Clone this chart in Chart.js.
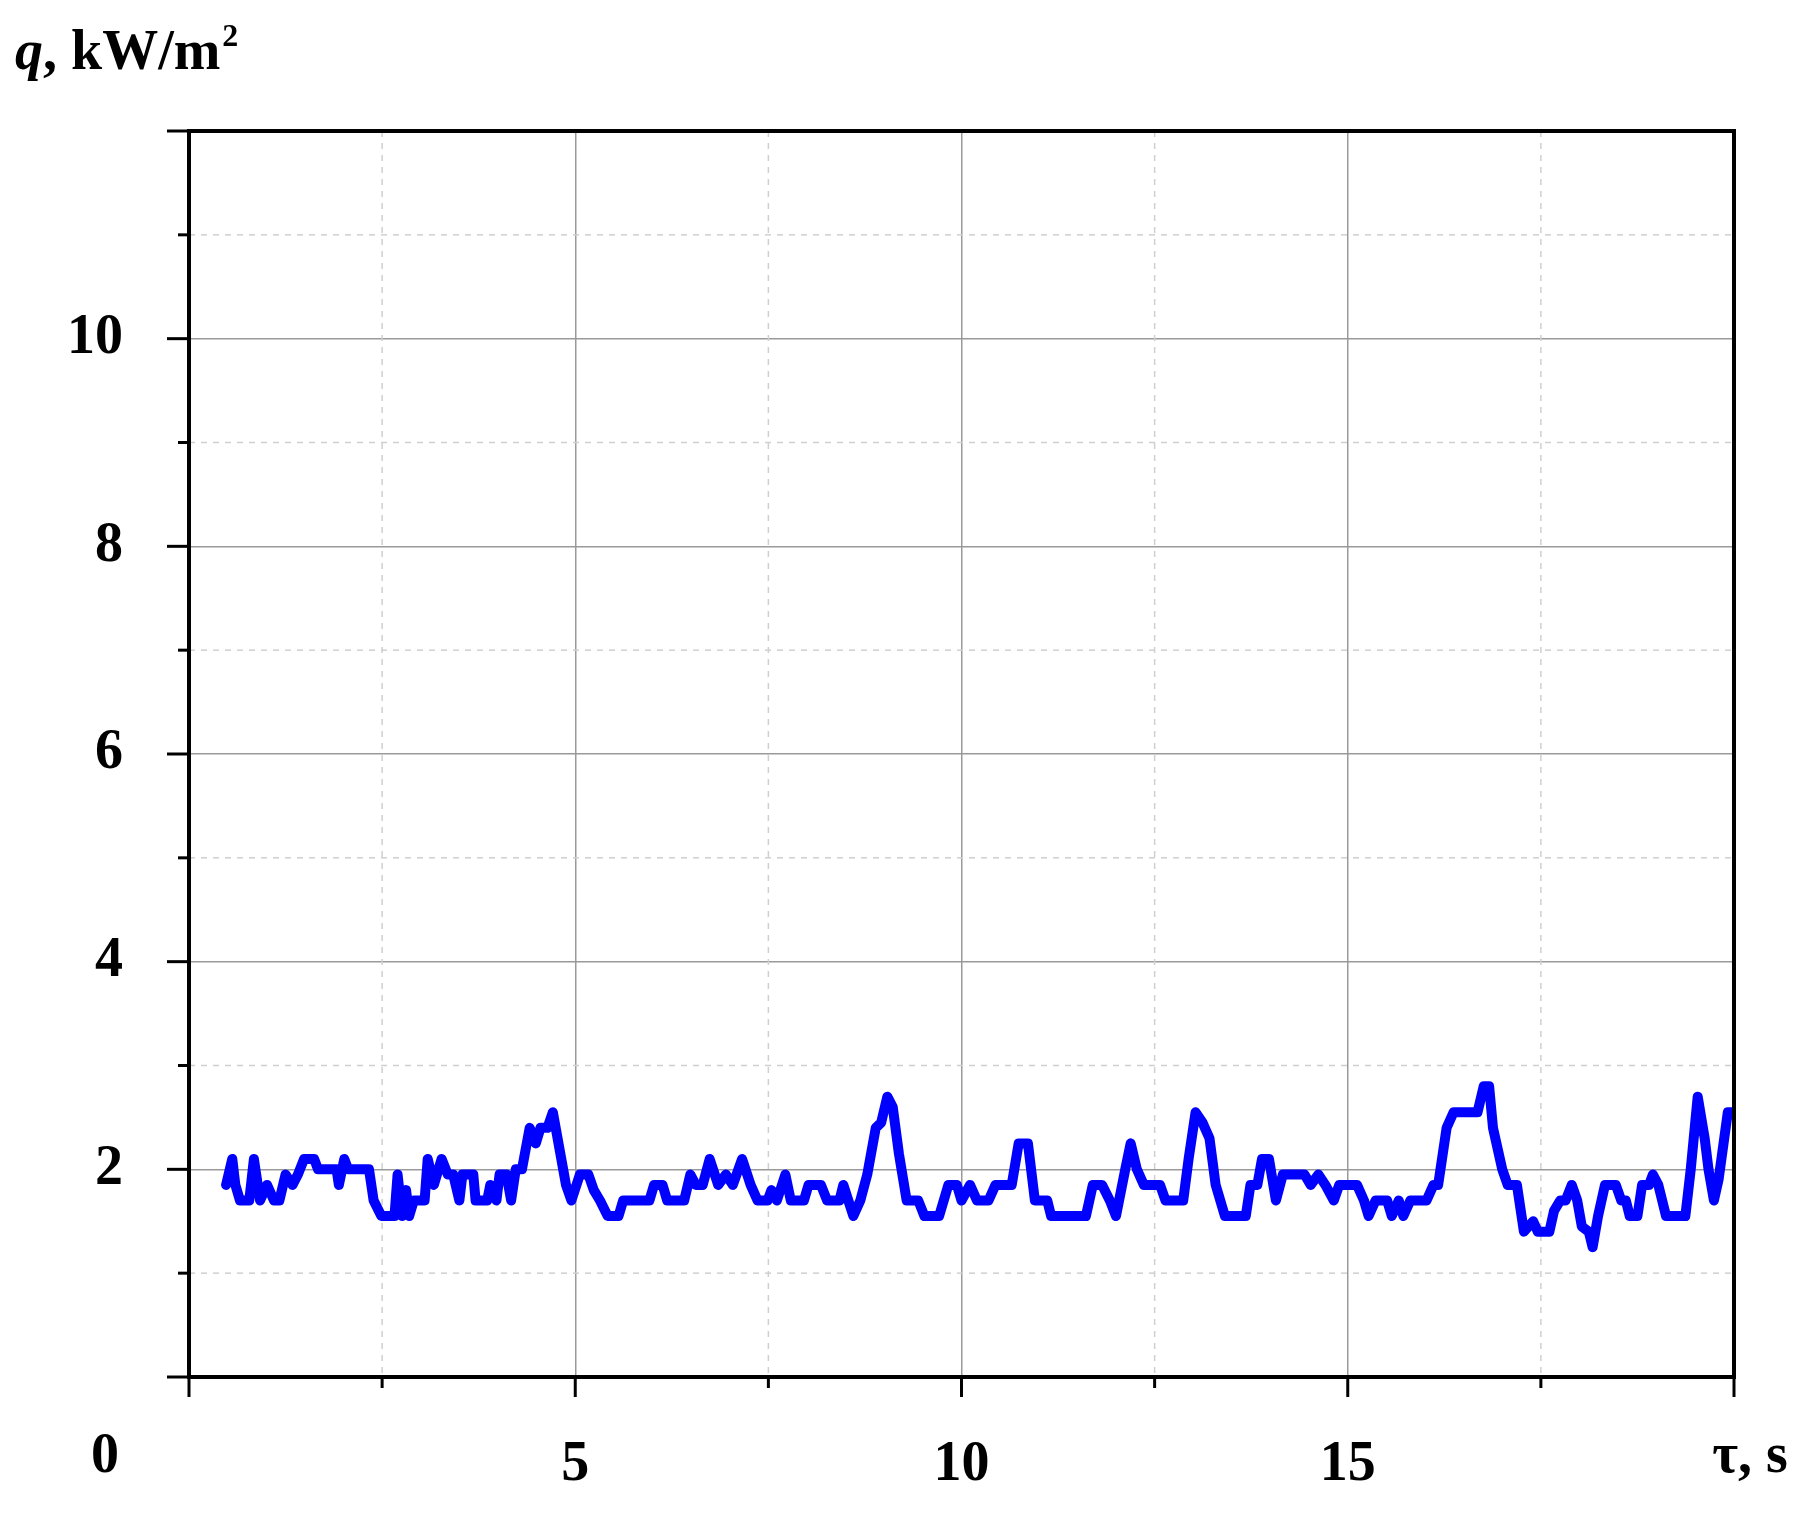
<!DOCTYPE html>
<html>
<head>
<meta charset="utf-8">
<script src="https://cdn.jsdelivr.net/npm/chart.js@4.4.0/dist/chart.umd.min.js"></script>
<style>
  html, body { margin: 0; padding: 0; background: #fff; }
  #wrap { width: 1809px; height: 1514px; }
</style>
</head>
<body>
<div id="wrap"><canvas id="c"></canvas></div>
<script>
// time, s
const tau = [0.48,0.56,0.60,0.66,0.78,0.84,0.92,1.01,1.10,1.17,1.25,1.34,1.41,1.49,1.62,1.67,1.91,1.94,2.01,2.06,
  2.33,2.39,2.49,2.66,2.70,2.76,2.81,2.85,2.91,3.05,3.09,3.17,3.27,3.35,3.42,3.50,3.54,3.68,3.71,3.86,
  3.90,3.98,4.02,4.11,4.17,4.23,4.31,4.41,4.49,4.55,4.64,4.71,4.88,4.95,5.06,5.17,5.24,5.32,5.42,5.56,
  5.62,5.96,6.02,6.13,6.19,6.41,6.49,6.56,6.65,6.74,6.85,6.95,7.04,7.16,7.27,7.36,7.49,7.54,7.61,7.72,
  7.79,7.96,8.02,8.18,8.26,8.42,8.47,8.60,8.69,8.78,8.89,8.96,9.04,9.11,9.19,9.29,9.44,9.52,9.71,9.83,
  9.94,10.00,10.11,10.20,10.35,10.44,10.65,10.74,10.86,10.95,11.11,11.16,11.61,11.70,11.82,11.92,12.00,12.12,12.19,12.27,
  12.36,12.57,12.64,12.87,12.94,13.03,13.12,13.21,13.29,13.41,13.68,13.74,13.83,13.89,13.98,14.07,14.16,14.25,14.44,14.52,
  14.62,14.71,14.82,14.89,15.12,15.21,15.27,15.36,15.51,15.57,15.66,15.72,15.81,16.02,16.11,16.17,16.28,16.37,16.68,16.76,
  16.83,16.88,17.00,17.07,17.19,17.25,17.28,17.34,17.40,17.46,17.61,17.67,17.75,17.82,17.90,17.97,18.03,18.12,18.17,18.24,
  18.33,18.47,18.54,18.60,18.65,18.75,18.81,18.90,18.95,19.02,19.12,19.37,19.44,19.53,19.62,19.67,19.74,19.80,19.92,20.00];
// heat flux, kW/m2
const q = [1.85,2.1,1.85,1.7,1.7,2.1,1.7,1.85,1.7,1.7,1.95,1.85,1.95,2.1,2.1,2.0,2.0,1.85,2.1,2.0,
  2.0,1.7,1.55,1.55,1.95,1.55,1.8,1.55,1.7,1.7,2.1,1.85,2.1,1.95,1.95,1.7,1.95,1.95,1.7,1.7,
  1.85,1.7,1.95,1.95,1.7,2.0,2.0,2.4,2.25,2.4,2.4,2.55,1.85,1.7,1.95,1.95,1.8,1.7,1.55,1.55,
  1.7,1.7,1.85,1.85,1.7,1.7,1.95,1.85,1.85,2.1,1.85,1.95,1.85,2.1,1.85,1.7,1.7,1.8,1.7,1.95,
  1.7,1.7,1.85,1.85,1.7,1.7,1.85,1.55,1.7,1.95,2.4,2.45,2.7,2.6,2.15,1.7,1.7,1.55,1.55,1.85,
  1.85,1.7,1.85,1.7,1.7,1.85,1.85,2.25,2.25,1.7,1.7,1.55,1.55,1.85,1.85,1.7,1.55,2.0,2.25,2.0,
  1.85,1.85,1.7,1.7,2.1,2.55,2.45,2.3,1.85,1.55,1.55,1.85,1.85,2.1,2.1,1.7,1.95,1.95,1.95,1.85,
  1.95,1.85,1.7,1.85,1.85,1.7,1.55,1.7,1.7,1.55,1.7,1.55,1.7,1.7,1.85,1.85,2.4,2.55,2.55,2.8,
  2.8,2.4,2.0,1.85,1.85,1.55,1.4,1.45,1.5,1.4,1.4,1.6,1.7,1.7,1.85,1.7,1.45,1.4,1.25,1.55,
  1.85,1.85,1.7,1.7,1.55,1.55,1.85,1.85,1.95,1.85,1.55,1.55,2.0,2.7,2.3,2.0,1.7,1.9,2.55,2.55];

const xLabels = { 5: '5', 10: '10', 15: '15' };
const yLabels = { 2: '2', 4: '4', 6: '6', 8: '8', 10: '10' };
const labelFont = { family: 'Liberation Serif', size: 56, weight: 'bold' };

const frame = {
  id: 'frame',
  beforeDatasetsDraw(chart) {
    const { ctx, chartArea: a, scales: { x, y } } = chart;
    ctx.save();
    ctx.strokeStyle = '#d0d0d0';
    ctx.lineWidth = 1.5;
    ctx.setLineDash([6, 6]);
    for (let v = 2.5; v < 20; v += 5) {
      const px = x.getPixelForValue(v);
      ctx.beginPath(); ctx.moveTo(px, a.top); ctx.lineTo(px, a.bottom); ctx.stroke();
    }
    for (let v = 1; v < 12; v += 2) {
      const py = y.getPixelForValue(v);
      ctx.beginPath(); ctx.moveTo(a.left, py); ctx.lineTo(a.right, py); ctx.stroke();
    }
    ctx.restore();
  },
  afterDraw(chart) {
    const { ctx, chartArea: a, scales: { x, y } } = chart;
    ctx.save();
    ctx.strokeStyle = '#000';
    ctx.lineWidth = 4;
    ctx.strokeRect(a.left, a.top, a.right - a.left, a.bottom - a.top);
    ctx.lineWidth = 3;
    for (let v = 0; v <= 20; v += 2.5) {
      const px = x.getPixelForValue(v);
      const len = v % 5 === 0 ? 20 : 11;
      ctx.beginPath(); ctx.moveTo(px, a.bottom); ctx.lineTo(px, a.bottom + len); ctx.stroke();
    }
    for (let v = 0; v <= 12; v += 1) {
      const py = y.getPixelForValue(v);
      const len = v % 2 === 0 ? 22 : 11;
      ctx.beginPath(); ctx.moveTo(a.left, py); ctx.lineTo(a.left - len, py); ctx.stroke();
    }
    ctx.fillStyle = '#000';
    ctx.textBaseline = 'middle';
    ctx.font = 'bold 56px "Liberation Serif"';
    ctx.textAlign = 'center';
    ctx.fillText('0', 105, 1458);
    ctx.fillText('τ, s', 1750, 1458);
    ctx.textAlign = 'left';
    ctx.font = 'italic bold 56px "Liberation Serif"';
    ctx.fillText('q', 15, 55);
    const w = ctx.measureText('q').width;
    ctx.font = 'bold 56px "Liberation Serif"';
    ctx.fillText(', kW/m', 15 + w, 55);
    const w2 = ctx.measureText(', kW/m').width;
    ctx.font = 'bold 32px "Liberation Serif"';
    ctx.fillText('2', 15 + w + w2 + 2, 38);
    ctx.restore();
  }
};

new Chart(document.getElementById('c'), {
  type: 'line',
  data: {
    datasets: [{
      data: tau.map((t, i) => ({ x: t, y: q[i] })),
      borderColor: '#0000ff',
      borderWidth: 10,
      borderJoinStyle: 'round',
      borderCapStyle: 'round',
      pointRadius: 0,
      tension: 0
    }]
  },
  options: {
    responsive: true,
    maintainAspectRatio: false,
    animation: false,
    layout: { padding: { top: 131, right: 75, left: 0, bottom: 0 } },
    plugins: { legend: { display: false }, tooltip: { enabled: false } },
    scales: {
      x: {
        type: 'linear', min: 0, max: 20,
        afterFit(s) { s.height = 137; },
        afterBuildTicks(s) { s.ticks = [0, 5, 10, 15, 20].map(v => ({ value: v })); },
        border: { display: false },
        grid: { drawTicks: false, lineWidth: 1.5, color: c => (c.tick && c.tick.value > 0 && c.tick.value < 20) ? '#9a9a9a' : 'rgba(0,0,0,0)' },
        ticks: { padding: 55, color: '#000', font: labelFont, maxRotation: 0, callback: v => xLabels[v] || '' }
      },
      y: {
        type: 'linear', min: 0, max: 12,
        afterFit(s) { s.width = 189; },
        afterBuildTicks(s) { s.ticks = [0, 2, 4, 6, 8, 10, 12].map(v => ({ value: v })); },
        border: { display: false },
        grid: { drawTicks: false, lineWidth: 1.5, color: c => (c.tick && c.tick.value > 0 && c.tick.value < 12) ? '#9a9a9a' : 'rgba(0,0,0,0)' },
        ticks: { padding: 66, color: '#000', font: labelFont, callback: v => yLabels[v] || '' }
      }
    }
  },
  plugins: [frame]
});
</script>
</body>
</html>
